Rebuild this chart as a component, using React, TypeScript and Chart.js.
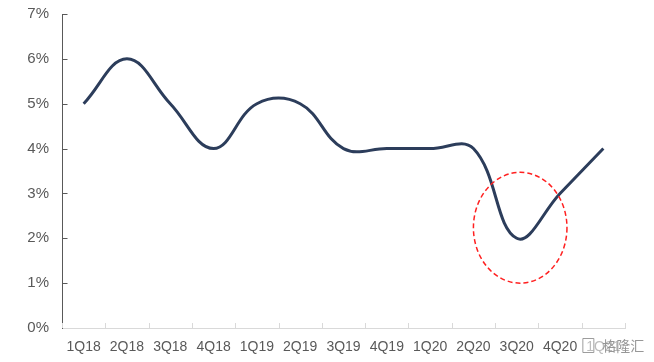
import React, { useEffect, useRef } from "react";
import { Chart, registerables } from "chart.js";

Chart.register(...registerables);

const categories = ["1Q18", "2Q18", "3Q18", "4Q18", "1Q19", "2Q19", "3Q19", "4Q19", "1Q20", "2Q20", "3Q20", "4Q20", "1Q21"];
const values = [5.0, 6.0, 5.0, 4.0, 5.0, 5.0, 4.0, 4.0, 4.0, 4.0, 2.0, 3.0, 4.0];
const yTicks = [0, 1, 2, 3, 4, 5, 6, 7];
// highlight ellipse: centred on 3Q20, spanning values 1.0% .. 3.47%
const highlightIndex = 10;
const highlightLow = 1.0;
const highlightHigh = 3.47;
const watermark = "格隆汇";

const decorPlugin = {
  id: "decor",
  afterDatasetsDraw(chart: any) {
    const { ctx, scales } = chart;
    const xs = scales.x;
    const ys = scales.y;
    const step = xs.getPixelForValue(1) - xs.getPixelForValue(0);
    const cx = xs.getPixelForValue(highlightIndex) + step * 0.08;
    const yTop = ys.getPixelForValue(highlightHigh);
    const yBot = ys.getPixelForValue(highlightLow);
    const cy = (yTop + yBot) / 2;
    const ry = (yBot - yTop) / 2;
    const rx = step * 1.08;
    ctx.save();
    ctx.beginPath();
    ctx.setLineDash([5, 3]);
    ctx.strokeStyle = "#FF2020";
    ctx.lineWidth = 1.5;
    ctx.ellipse(cx, cy, rx, ry, 0, 0, Math.PI * 2);
    ctx.stroke();
    ctx.restore();
  },
  afterDraw(chart: any) {
    const { ctx, scales } = chart;
    const xs = scales.x;
    const ys = scales.y;
    const step = xs.getPixelForValue(1) - xs.getPixelForValue(0);
    const axisY = ys.getPixelForValue(0);
    const axisX = Math.round(xs.left) + 0.5;
    ctx.save();
    // inside ticks on x axis (category boundaries)
    ctx.strokeStyle = "#D9D9D9";
    ctx.lineWidth = 1;
    for (let i = 0; i <= categories.length; i++) {
      const px = Math.round(xs.getPixelForValue(i) - step / 2) + 0.5;
      ctx.beginPath();
      ctx.moveTo(px, axisY);
      ctx.lineTo(px, axisY - 5);
      ctx.stroke();
    }
    // inside ticks on y axis
    ctx.strokeStyle = "#595959";
    for (const v of yTicks) {
      const py = Math.round(ys.getPixelForValue(v)) + 0.5;
      if (v === 0) continue;
      ctx.beginPath();
      ctx.moveTo(axisX, py);
      ctx.lineTo(axisX + 5, py);
      ctx.stroke();
    }
    // watermark
    const x = xs.getPixelForValue(categories.length - 1) - 21;
    const y = 346;
    ctx.fillStyle = "rgba(255,255,255,0.6)";
    ctx.fillRect(x - 1, y - 9, 64, 18);
    ctx.strokeStyle = "rgba(140,140,140,0.85)";
    ctx.lineWidth = 1;
    ctx.beginPath();
    ctx.rect(x + 0.5, y - 7.5, 11, 14);
    ctx.stroke();
    ctx.fillStyle = "rgba(140,140,140,0.9)";
    ctx.font = "14px 'Noto Sans CJK SC', sans-serif";
    ctx.textBaseline = "middle";
    ctx.fillText(watermark, x + 20, y);
    ctx.restore();
  },
};

export default function App() {
  const ref = useRef<HTMLCanvasElement>(null);
  useEffect(() => {
    if (!ref.current) return;
    const chart = new Chart(ref.current, {
      type: "line",
      data: {
        labels: categories,
        datasets: [
          {
            data: values,
            borderColor: "#2C3D5B",
            borderWidth: 3,
            pointRadius: 0,
            tension: 0.4,
            fill: false,
          },
        ],
      },
      options: {
        animation: false,
        responsive: false,
        layout: { padding: { top: 14, right: 29, left: 0, bottom: 0 } },
        plugins: { legend: { display: false }, tooltip: { enabled: false } },
        scales: {
          x: {
            offset: true,
            afterFit: (s: any) => { s.height = 34; },
            grid: { offset: true, drawOnChartArea: false, drawTicks: false, display: true },
            border: { color: "#D9D9D9" },
            ticks: {
              color: "#595959",
              font: { family: "'Liberation Sans', Arial, sans-serif", size: 14 },
              padding: 11,
              maxRotation: 0,
              autoSkip: false,
            },
          },
          y: {
            min: 0,
            max: 7,
            afterFit: (s: any) => { s.width = 62; s.paddingTop = 0; s.paddingBottom = 0; },
            grid: { drawOnChartArea: false, drawTicks: false },
            border: { color: "#595959" },
            afterBuildTicks: (s: any) => { s.ticks = yTicks.map((v) => ({ value: v })); },
            ticks: {
              color: "#595959",
              font: { family: "'Liberation Sans', Arial, sans-serif", size: 15 },
              padding: 13,
              callback: (v: any) => `${v}%`,
            },
          },
        },
      },
      plugins: [decorPlugin],
    });
    return () => chart.destroy();
  }, []);
  return (
    <div style={{ position: "absolute", left: 0, top: 0, width: 654, height: 362, background: "#fff" }}>
      <canvas ref={ref} width={654} height={362} style={{ width: 654, height: 362 }} />
    </div>
  );
}
